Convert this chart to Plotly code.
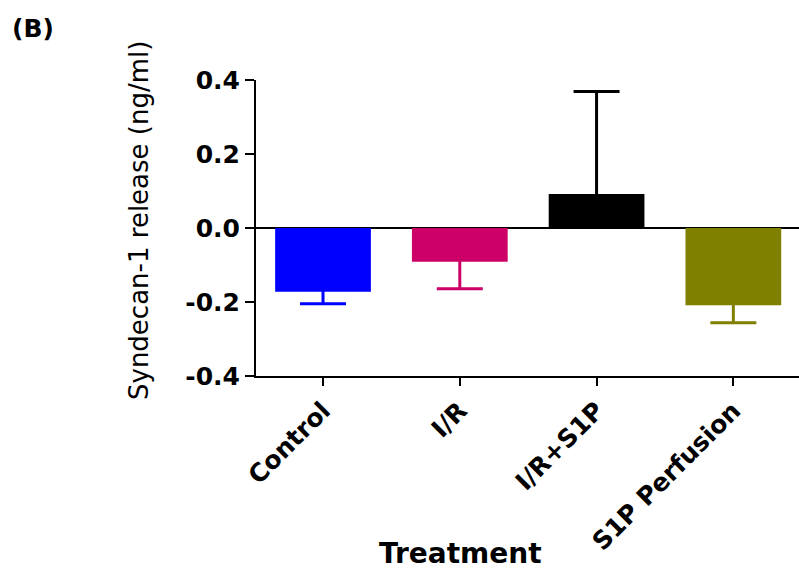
import plotly.graph_objects as go

categories = ["Control", "I/R", "I/R+S1P", "S1P Perfusion"]
means = [-0.172, -0.091, 0.092, -0.209]
errors = [0.033, 0.073, 0.277, 0.047]
colors = ["#0000FF", "#CC0066", "#000000", "#808000"]
y_ticks = [-0.4, -0.2, 0.0, 0.2, 0.4]
y_ticklabels = ["-0.4", "-0.2", "0.0", "0.2", "0.4"]

# the unused end of each one-sided error bar is tucked inside its own bar (same colour, so hidden)
HIDDEN_CAP = 0.01

fig = go.Figure()
for cat, m, e, c in zip(categories, means, errors, colors):
    up = e if m >= 0 else HIDDEN_CAP
    down = e if m < 0 else HIDDEN_CAP
    fig.add_trace(go.Bar(
        x=[cat], y=[m], width=0.7,
        marker=dict(color=c, line=dict(width=0)),
        error_y=dict(type="data", symmetric=False, array=[up], arrayminus=[down],
                     color=c, thickness=3, width=23),
        showlegend=False,
    ))

W, H = 799, 572
L, R, T, B = 256, 0, 80, 196
pw, ph = W - L - R, H - T - B

def px(x):
    return (x - L) / pw

def py(y):
    return (H - B - y) / ph

fig.update_layout(
    width=W, height=H,
    margin=dict(l=L, r=R, t=T, b=B),
    paper_bgcolor="white", plot_bgcolor="white",
    barmode="overlay",
    xaxis=dict(
        type="category", categoryorder="array", categoryarray=categories,
        range=[-0.49, 3.48],
        showline=True, linecolor="black", linewidth=2,
        ticks="outside", ticklen=8, tickwidth=2, tickcolor="black",
        tickangle=-45,
        tickfont=dict(family="DejaVu Sans", size=25, color="black", weight="bold"),
        showgrid=False, zeroline=False,
    ),
    yaxis=dict(
        range=[-0.4, 0.4],
        tickvals=y_ticks, ticktext=y_ticklabels,
        showline=True, linecolor="black", linewidth=2,
        ticks="outside", ticklen=9, tickwidth=2, tickcolor="black",
        tickfont=dict(family="DejaVu Sans", size=25, color="black", weight="bold"),
        showgrid=False, zeroline=True, zerolinecolor="black", zerolinewidth=2,
    ),
    annotations=[
        dict(text="Syndecan-1 release (ng/ml)", textangle=-90,
             xref="paper", yref="paper", x=px(139), y=py(221),
             xanchor="center", yanchor="middle", showarrow=False,
             font=dict(family="DejaVu Sans", size=26, color="black")),
        dict(text="Treatment", xref="paper", yref="paper", x=px(460), y=py(553),
             xanchor="center", yanchor="middle", showarrow=False,
             font=dict(family="DejaVu Sans", size=28, color="black", weight="bold")),
        dict(text="(B)", xref="paper", yref="paper", x=px(10), y=py(12),
             xanchor="left", yanchor="top", showarrow=False,
             font=dict(family="DejaVu Sans", size=25, color="black", weight="bold")),
    ],
)

fig.write_html("out.html")
